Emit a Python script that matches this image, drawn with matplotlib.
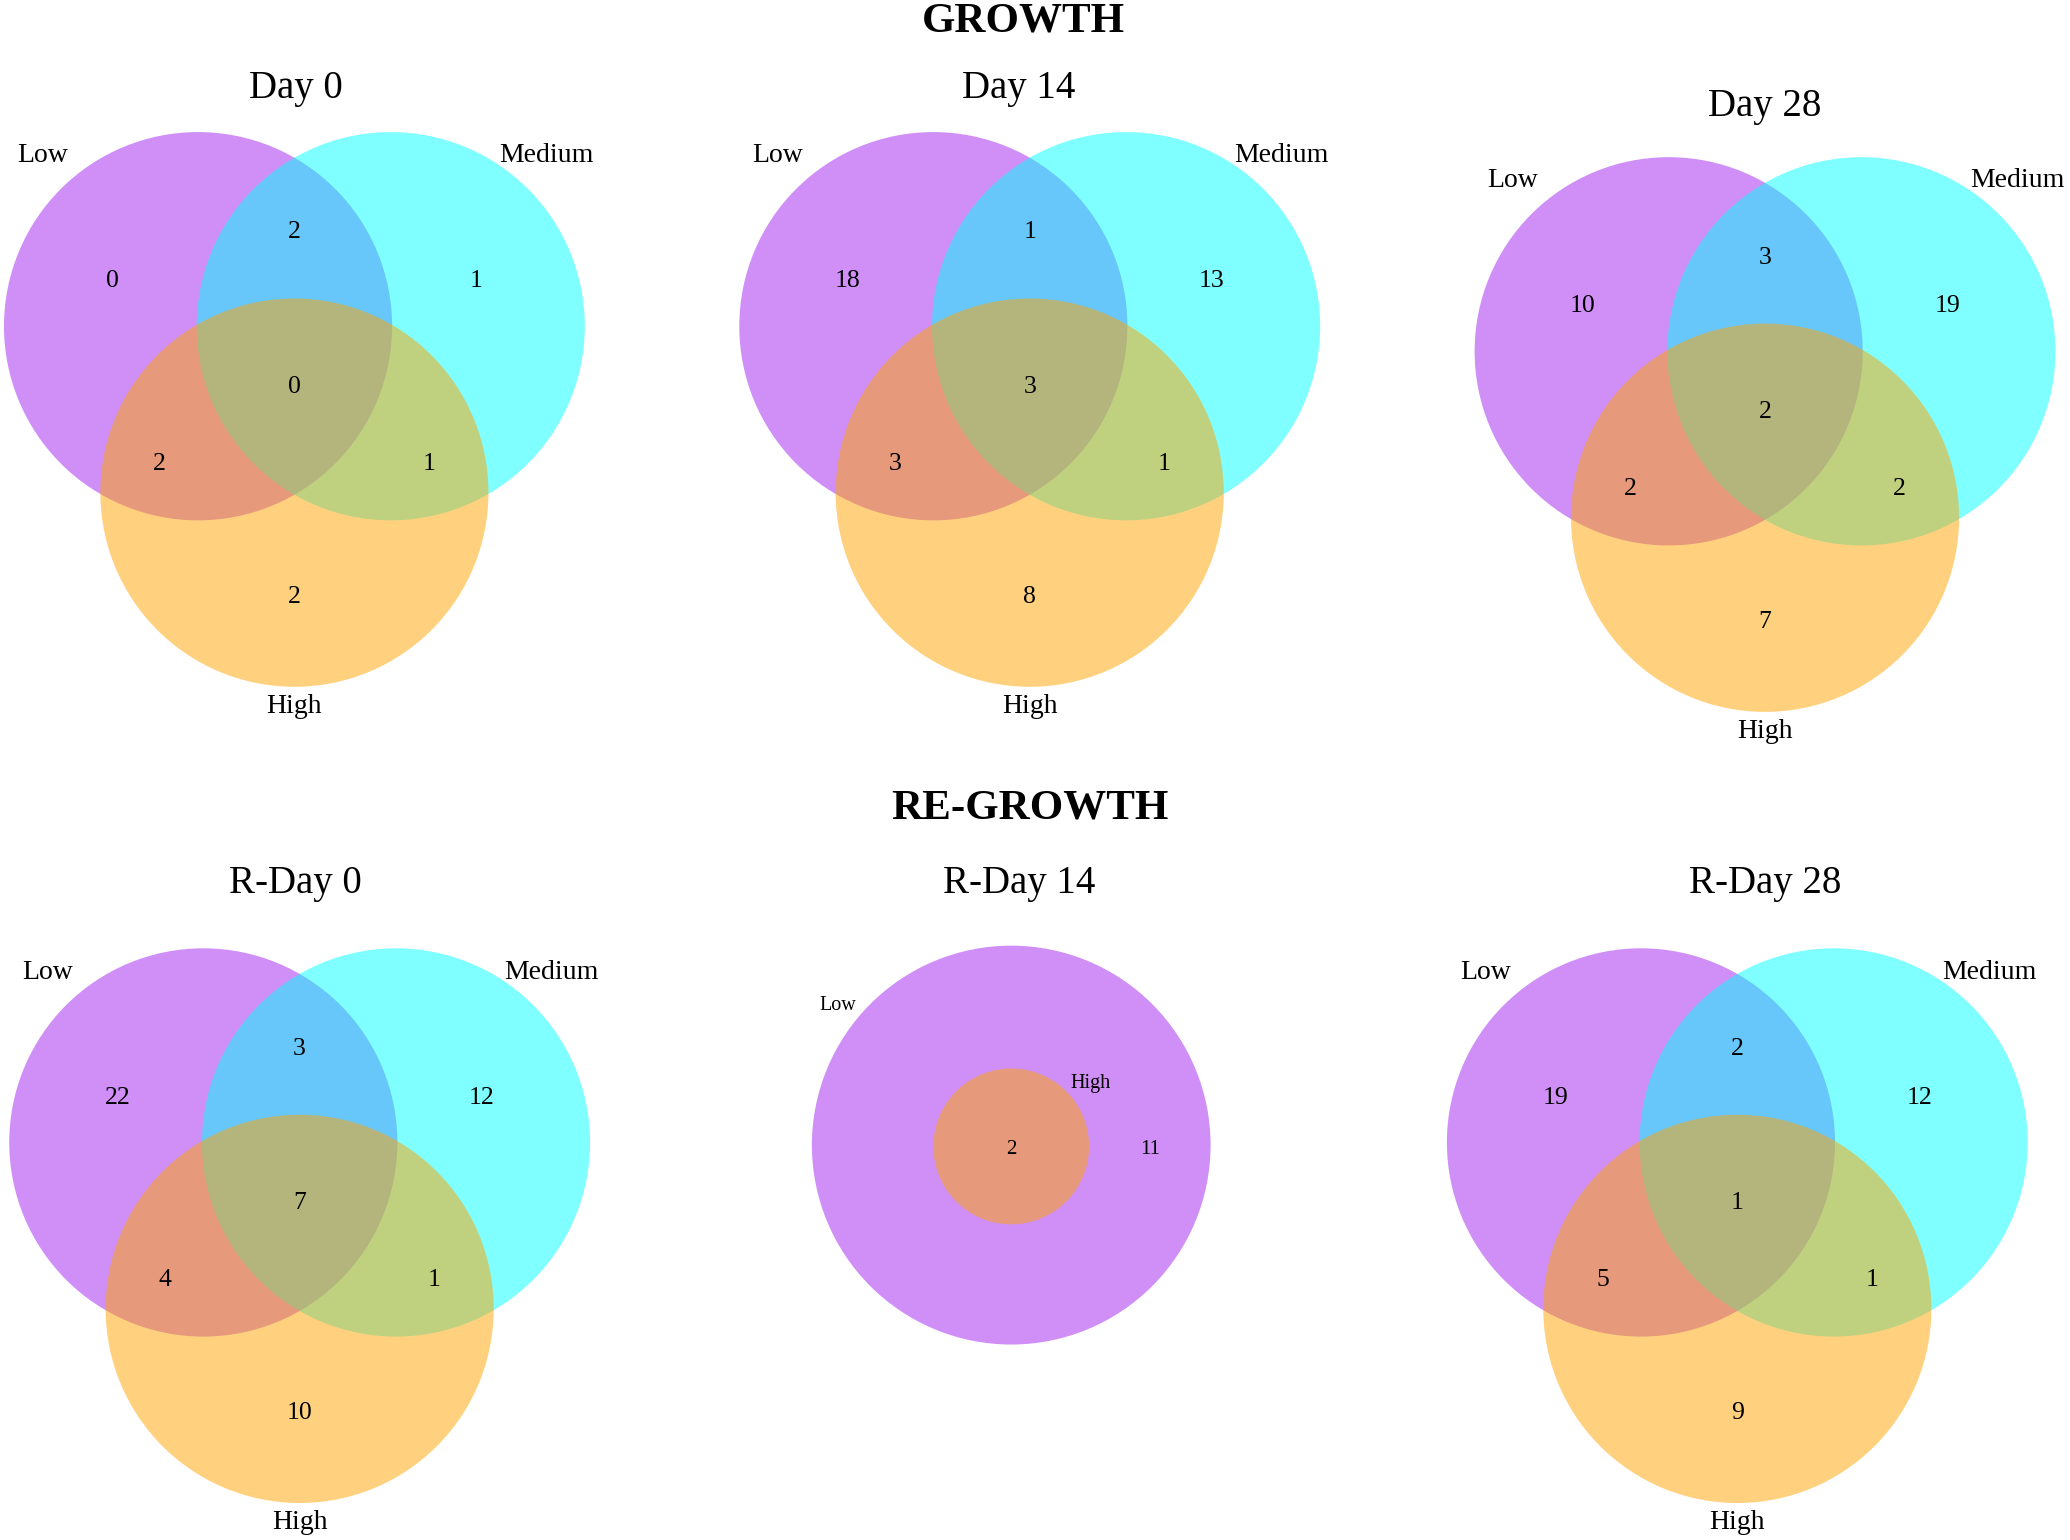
import matplotlib.pyplot as plt
from matplotlib.patches import Circle

plt.rcParams['font.family'] = ['Liberation Serif', 'DejaVu Serif']

# set names and region counts: [Low only, Medium only, High only, Low&Med, Low&High, Med&High, all three]
set_names = ['Low', 'Medium', 'High']
panel_titles = ['Day 0', 'Day 14', 'Day 28', 'R-Day 0', 'R-Day 28']
day0 = [0, 1, 2, 2, 2, 1, 0]
day14 = [18, 13, 8, 1, 3, 1, 3]
day28 = [10, 19, 7, 3, 2, 2, 2]
rday0 = [22, 12, 10, 3, 4, 1, 7]
rday28 = [19, 12, 9, 2, 5, 1, 1]
# R-Day 14: only Low and High, High nested in Low
rday14_names = ['Low', 'High']
rday14_low_only = 11
rday14_both = 2

colors = ['#A020F0', '#00FFFF', '#FFA500']

# layout (pixel units of a 1568 x 1166 canvas): circle group centre, title position
layout = [(223, 247, 224, 65), (780, 247, 772, 65), (1337, 266, 1337, 79),
          (227, 865, 224, 667), (1316, 865, 1337, 667)]
R = 147
D = 73
HD = 126
TY = 2  # small downward nudge for text

fig = plt.figure(figsize=(20.7, 15.4), dpi=100)
ax = fig.add_axes([0, 0, 1, 1])
ax.set_xlim(0, 1568)
ax.set_ylim(1166, 0)
ax.axis('off')


def venn3(cx, cy, counts):
    centres = [(cx - D, cy), (cx + D, cy), (cx, cy + HD)]
    for (x, y), c in zip(centres, colors):
        ax.add_patch(Circle((x, y), R, facecolor=c, alpha=0.5, edgecolor='none'))
    # region label offsets
    offs = [(-138, -36), (138, -36), (0, 203), (0, -73), (-102, 102), (102, 102), (0, 44)]
    for (dx, dy), n in zip(offs, counts):
        ax.text(cx + dx, cy + dy + TY, str(n), ha='center', va='center', fontsize=18.5)
    ax.text(cx - 191, cy - 131 + TY, set_names[0], ha='center', va='center', fontsize=20)
    ax.text(cx + 191, cy - 131 + TY, set_names[1], ha='center', va='center', fontsize=20)
    ax.text(cx, cy + 286 + TY, set_names[2], ha='center', va='center', fontsize=20)


for title, counts, (cx, cy, tx, ty) in zip(panel_titles, [day0, day14, day28, rday0, rday28], layout):
    venn3(cx, cy, counts)
    ax.text(tx, ty + TY, title, ha='center', va='center', fontsize=28)

# R-Day 14 nested diagram
ax.add_patch(Circle((766, 867), 151, facecolor=colors[0], alpha=0.5, edgecolor='none'))
ax.add_patch(Circle((766, 868), 59, facecolor=colors[2], alpha=0.5, edgecolor='none'))
ax.text(766, 868 + TY, str(rday14_both), ha='center', va='center', fontsize=15)
ax.text(871, 868 + TY, str(rday14_low_only), ha='center', va='center', fontsize=15)
ax.text(635, 759 + TY, rday14_names[0], ha='center', va='center', fontsize=14.5)
ax.text(826, 818 + TY, rday14_names[1], ha='center', va='center', fontsize=14.5)
ax.text(772, 667 + TY, 'R-Day 14', ha='center', va='center', fontsize=28)

ax.text(775, 14 + TY, 'GROWTH', ha='center', va='center', fontsize=31, fontweight='bold')
ax.text(780, 610 + TY, 'RE-GROWTH', ha='center', va='center', fontsize=31, fontweight='bold')

fig.savefig('out.png', dpi=100, facecolor='white')
